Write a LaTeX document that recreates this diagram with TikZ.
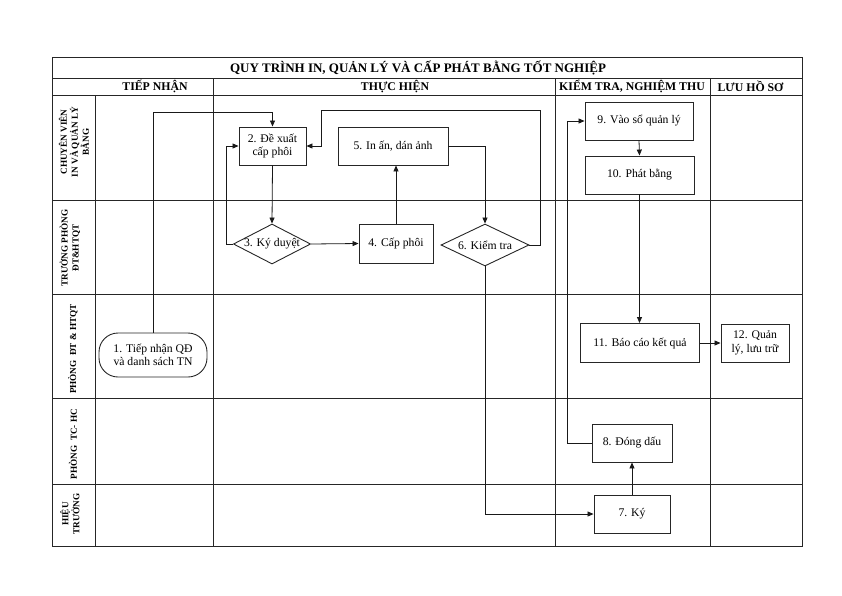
\documentclass[tikz,border=0pt]{standalone}
\usepackage{fontspec}
\setmainfont{Liberation Serif}
\usetikzlibrary{shapes.geometric,arrows.meta}
\begin{document}
\begin{tikzpicture}[x=1pt,y=-1pt,
  grid/.style={line width=0.8pt,draw=black!85},
  box/.style={draw=black!85,line width=0.9pt,align=center,inner sep=1pt,font=\fontsize{11.7}{13.5}\selectfont},
  dia/.style={draw=black!85,line width=0.9pt,diamond,align=center,inner sep=0pt,aspect=2,font=\fontsize{11.7}{13.5}\selectfont},
  arr/.style={draw=black!90,line width=0.8pt,-{Triangle[length=6pt,width=5pt]}},
  hdr/.style={font=\bfseries\fontsize{11.8}{13}\selectfont},
  lane/.style={font=\bfseries\fontsize{9.2}{11}\selectfont,align=center,rotate=90}]
\useasboundingbox (0,0) rectangle (842,595);
% table
\draw[grid] (52,57) rectangle (802,546);
\draw[grid] (52,78) -- (802,78);
\draw[grid] (52,95) -- (802,95);
\draw[grid] (95,95) -- (95,546);
\draw[grid] (213,78) -- (213,546);
\draw[grid] (555,78) -- (555,546);
\draw[grid] (710,78) -- (710,546);
\foreach \y in {200,294,398,484} \draw[grid] (52,\y) -- (802,\y);
% titles
\node[font=\bfseries\fontsize{13}{15}\selectfont] (title) at (418,67.5) {QUY TRÌNH IN, QUẢN LÝ VÀ CẤP PHÁT BẰNG TỐT NGHIỆP};
\node[hdr] (h1) at (155,86.5) {TIẾP NHẬN};
\node[hdr] (h2) at (395,86.5) {THỰC HIỆN};
\node[hdr] (h3) at (632,86.5) {KIỂM TRA, NGHIỆM THU};
\node[hdr] (h4) at (750.5,86.5) {LƯU HỒ SƠ};
% lane labels
\node[lane] (l1) at (74,142) {CHUYÊN VIÊN\\IN VÀ QUẢN LÝ\\BẰNG};
\node[lane] (l2) at (70,248) {TRƯỞNG PHÒNG\\ĐT\&HTQT};
\node[lane] (l3) at (73,349) {PHÒNG\ \ ĐT \& HTQT};
\node[lane] (l4) at (73,444) {PHÒNG\ \ TC- HC};
\node[lane] (l5) at (70,514) {HIỆU\\TRƯỞNG};
% nodes
\node[box,rounded corners=19pt,minimum width=108pt,minimum height=44pt] (n1) at (153,355) {1. Tiếp nhận QĐ\\và danh sách TN};
\node[box,minimum width=67pt,minimum height=38pt] (n2) at (272.5,146) {2. Đề xuất\\cấp phôi};
\node[dia,minimum width=76pt,minimum height=40pt] (n3) at (272,244) {3. Ký duyệt};
\node[box,minimum width=74pt,minimum height=39pt] (n4) at (396,243.5) {4. Cấp phôi};
\node[box,minimum width=110pt,minimum height=38pt] (n5) at (393,146) {5. In ấn, dán ảnh};
\node[dia,minimum width=88pt,minimum height=42pt] (n6) at (485,245) {6. Kiểm tra};
\node[box,minimum width=76pt,minimum height=38pt] (n7) at (632,514) {7. Ký};
\node[box,minimum width=80pt,minimum height=38pt] (n8) at (632,443) {8. Đóng dấu};
\node[box,minimum width=108pt,minimum height=38pt] (n9) at (639,121) {9. Vào sổ quản lý};
\node[box,minimum width=109pt,minimum height=38pt] (n10) at (639.5,175) {10. Phát bằng};
\node[box,minimum width=119pt,minimum height=39pt] (n11) at (640,343) {11. Báo cáo kết quả};
\node[box,minimum width=68pt,minimum height=38pt] (n12) at (755,343) {12. Quản\\lý, lưu trữ};
% helper coordinates
\coordinate (k1) at (272.5,112);
\coordinate (k3) at (226,146);
\coordinate (k6a) at (540,110);
\coordinate (k6b) at (321,146);
\coordinate (k8) at (567,121);
% connectors
\draw[arr] (n1.north) |- (k1) -- (n2.north);
\draw[arr] (n2.south) -- (n3.north);
\draw[arr] (n3.west) -| (k3) -- (n2.west);
\draw[arr] (n3.east) -- (n4.west);
\draw[arr] (n4.north) -- (n4.north |- n5.south);
\draw[arr] (n5.east) -| (n6.north);
\draw[arr] (n6.east) -| (k6a) -| (k6b) -- (n2.east);
\draw[arr] (n6.south) |- (n7.west);
\draw[arr] (n7.north) -- (n8.south);
\draw[arr] (n8.west) -| (k8) -- (n9.west);
\draw[arr] (n9.south) -- (n10.north);
\draw[arr] (n10.south) -- (n10.south |- n11.north);
\draw[arr] (n11.east) -- (n12.west);
\end{tikzpicture}
\end{document}
